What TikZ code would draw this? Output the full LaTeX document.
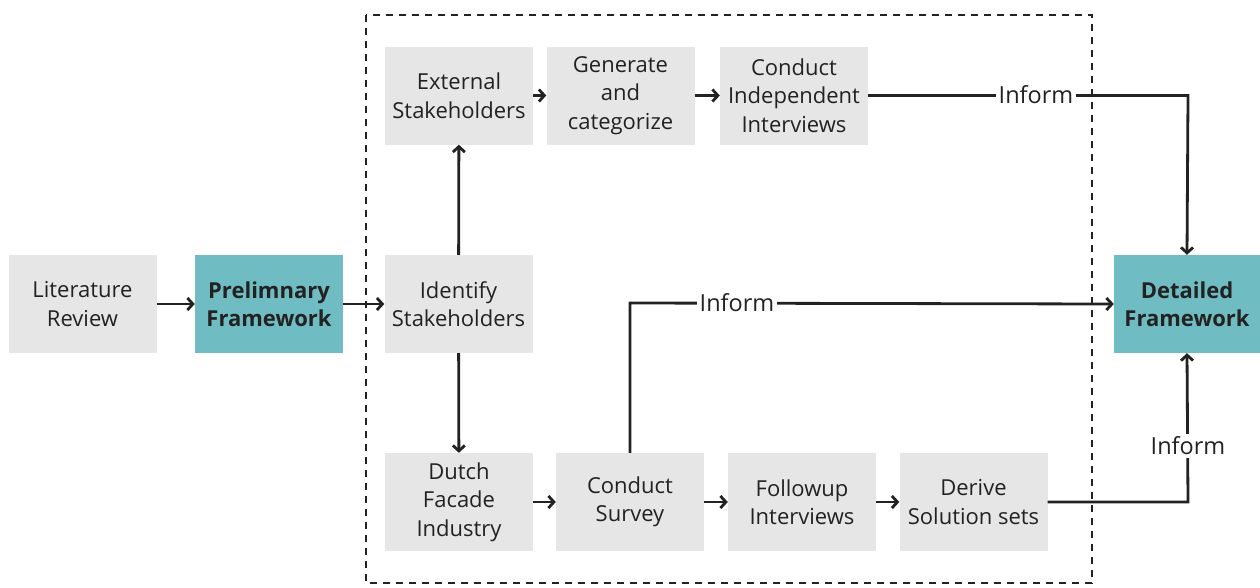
\documentclass[tikz,border=0pt]{standalone}
\usepackage{fontspec}
\setmainfont{Open Sans}
\usetikzlibrary{arrows.meta,positioning}
\definecolor{boxgray}{HTML}{E6E6E6}
\definecolor{teal}{HTML}{6FBDC2}
\definecolor{ink}{HTML}{222222}
\tikzset{
  gbox/.style={fill=boxgray, minimum width=148pt, minimum height=98pt, inner sep=0pt, align=center, text=ink,
    font=\fontsize{22}{28.5}\selectfont},
  tbox/.style={gbox, fill=teal, font=\fontsize{22}{28.5}\selectfont\bfseries},
  conn/.style={line width=2.8pt, draw=ink, -{Straight Barb[length=5.5pt,width=12pt,line width=2.8pt]}},
  lbl/.style={fill=white, inner sep=3pt, text=ink, font=\fontsize{23.5}{26}\selectfont},
}
\begin{document}
\begin{tikzpicture}[x=1pt,y=-1pt]
\useasboundingbox (0,0) rectangle (1260,587);
\fill[white] (0,0) rectangle (1260,587);
\draw[dashed, line width=1.4pt, ink, dash pattern=on 7pt off 6pt] (366,15) rectangle (1092,583);
\node[gbox] (lit) at (82.5,304) {Literature\\Review};
\node[tbox] (pre) at (269,304) {Prelimnary\\Framework};
\node[gbox] (idf) at (458.5,304) {Identify\\Stakeholders};
\node[gbox] (ext) at (459,95.5) {External\\Stakeholders};
\node[gbox] (gen) at (620.5,95.5) {Generate\\and\\categorize};
\node[gbox] (cii) at (794,95.5) {Conduct\\Independent\\Interviews};
\node[gbox] (dut) at (459,502) {Dutch\\Facade\\Industry};
\node[gbox] (sur) at (630,502) {Conduct\\Survey};
\node[gbox] (fol) at (802,502) {Followup\\Interviews};
\node[gbox] (der) at (973.5,502) {Derive\\Solution sets};
\node[tbox, minimum width=146pt] (det) at (1187,304) {Detailed\\Framework};
\coordinate (c1) at (1188,95.5);
\coordinate (c2) at (630,303);
\coordinate (c3) at (1188,502);
\draw[conn] (lit) -- (pre);
\draw[conn] (pre) -- (idf);
\draw[conn] (idf) -- (ext);
\draw[conn] (idf) -- (dut);
\draw[conn] (ext) -- (gen);
\draw[conn] (gen) -- (cii);
\draw[conn] (dut) -- (sur);
\draw[conn] (sur) -- (fol);
\draw[conn] (fol) -- (der);
\draw[conn] (cii.east) -- (c1) -- (det.north);
\draw[conn] (sur.north) -- (c2) -- (det.west);
\draw[conn] (der.east) -- (c3) -- (det.south);
\node[lbl] (i1) at (1036,95) {Inform};
\node[lbl] (i2) at (737,303) {Inform};
\node[lbl] (i3) at (1188,446) {Inform};
\end{tikzpicture}
\end{document}
